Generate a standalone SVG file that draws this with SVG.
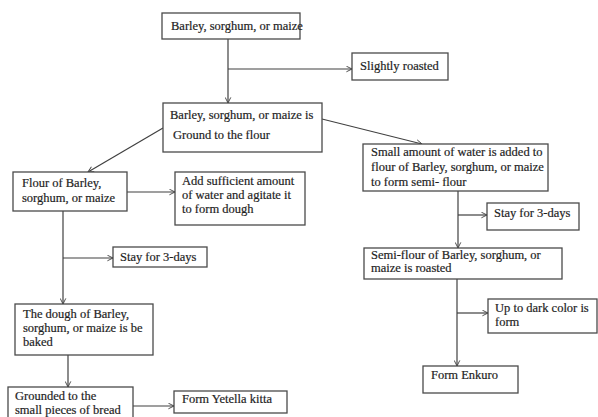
<svg xmlns="http://www.w3.org/2000/svg" width="598" height="417" viewBox="0 0 598 417">
  <style>
    .box { fill: #ffffff; stroke: #4a4a4a; stroke-width: 1.3; }
    .lbl { font-family: "Liberation Serif", "Times New Roman", serif; font-size: 12.5px; fill: #1e1e1e; stroke: #1e1e1e; stroke-width: 0.2; }
    .edge { fill: none; stroke: #404040; stroke-width: 1.2; }
  </style>
  <defs>
    <marker id="arrow" viewBox="0 0 10 10" refX="9" refY="5" markerWidth="7" markerHeight="7" markerUnits="userSpaceOnUse" orient="auto">
      <path d="M1,1 L9,5 L1,9" fill="none" stroke="#404040" stroke-width="1.3"/>
    </marker>
  </defs>
  <rect width="598" height="417" fill="#ffffff"/>

  <g id="connectors">
    <line class="edge" x1="228" y1="39" x2="228" y2="103" marker-end="url(#arrow)"/>
    <line class="edge" x1="228" y1="69" x2="352" y2="69" marker-end="url(#arrow)"/>
    <line class="edge" x1="163" y1="128" x2="88" y2="172" marker-end="url(#arrow)"/>
    <line class="edge" x1="322" y1="119" x2="422" y2="144" marker-end="url(#arrow)"/>
    <line class="edge" x1="127" y1="192" x2="175" y2="192" marker-end="url(#arrow)"/>
    <line class="edge" x1="63" y1="211" x2="63" y2="304" marker-end="url(#arrow)"/>
    <line class="edge" x1="63" y1="258" x2="113" y2="258" marker-end="url(#arrow)"/>
    <line class="edge" x1="68" y1="355" x2="68" y2="387" marker-end="url(#arrow)"/>
    <line class="edge" x1="133" y1="406" x2="174" y2="406" marker-end="url(#arrow)"/>
    <line class="edge" x1="458" y1="191" x2="458" y2="248" marker-end="url(#arrow)"/>
    <line class="edge" x1="458" y1="215" x2="487" y2="215" marker-end="url(#arrow)"/>
    <line class="edge" x1="457" y1="279" x2="457" y2="366" marker-end="url(#arrow)"/>
    <line class="edge" x1="457" y1="313" x2="488" y2="313" marker-end="url(#arrow)"/>
  </g>

  <g id="grain">
    <rect class="box" x="162" y="13" width="138" height="26"/>
    <text class="lbl" x="171" y="30">Barley, sorghum, or maize</text>
  </g>

  <g id="slightly-roasted">
    <rect class="box" x="352" y="53" width="96" height="27"/>
    <text class="lbl" x="360" y="70">Slightly roasted</text>
  </g>

  <g id="ground-flour">
    <rect class="box" x="163" y="103" width="159" height="49"/>
    <text class="lbl" x="170" y="119">Barley, sorghum, or maize is</text>
    <text class="lbl" x="173" y="139">Ground to the flour</text>
  </g>

  <g id="flour">
    <rect class="box" x="13" y="172" width="114" height="39"/>
    <text class="lbl" x="22" y="187">Flour of Barley,</text>
    <text class="lbl" x="22" y="202">sorghum, or maize</text>
  </g>

  <g id="add-water">
    <rect class="box" x="175" y="172" width="130" height="53"/>
    <text class="lbl" x="182" y="185">Add sufficient amount</text>
    <text class="lbl" x="182" y="199">of water and agitate it</text>
    <text class="lbl" x="182" y="213">to form dough</text>
  </g>

  <g id="stay-left">
    <rect class="box" x="113" y="247" width="94" height="20"/>
    <text class="lbl" x="120" y="261">Stay for 3-days</text>
  </g>

  <g id="dough">
    <rect class="box" x="15" y="304" width="138" height="51"/>
    <text class="lbl" x="23" y="318">The dough of Barley,</text>
    <text class="lbl" x="23" y="332">sorghum, or maize is be</text>
    <text class="lbl" x="23" y="346">baked</text>
  </g>

  <g id="grounded">
    <rect class="box" x="8" y="387" width="125" height="34"/>
    <text class="lbl" x="15" y="400">Grounded to the</text>
    <text class="lbl" x="15" y="414">small pieces of bread</text>
  </g>

  <g id="yetella-kitta">
    <rect class="box" x="174" y="391" width="113" height="22"/>
    <text class="lbl" x="182" y="403">Form Yetella kitta</text>
  </g>

  <g id="semi-flour-water">
    <rect class="box" x="363" y="144" width="185" height="47"/>
    <text class="lbl" x="371" y="156">Small amount of water is added to</text>
    <text class="lbl" x="371" y="171">flour of Barley, sorghum, or maize</text>
    <text class="lbl" x="371" y="186">to form semi- flour</text>
  </g>

  <g id="stay-right">
    <rect class="box" x="487" y="203" width="92" height="27"/>
    <text class="lbl" x="494" y="217">Stay for 3-days</text>
  </g>

  <g id="semi-flour-roasted">
    <rect class="box" x="364" y="248" width="198" height="31"/>
    <text class="lbl" x="371" y="259">Semi-flour of Barley, sorghum, or</text>
    <text class="lbl" x="371" y="272">maize is roasted</text>
  </g>

  <g id="dark-color">
    <rect class="box" x="488" y="299" width="109" height="34"/>
    <text class="lbl" x="495" y="312">Up to dark color is</text>
    <text class="lbl" x="495" y="326">form</text>
  </g>

  <g id="enkuro">
    <rect class="box" x="423" y="366" width="95" height="27"/>
    <text class="lbl" x="431" y="379">Form Enkuro</text>
  </g>
</svg>
